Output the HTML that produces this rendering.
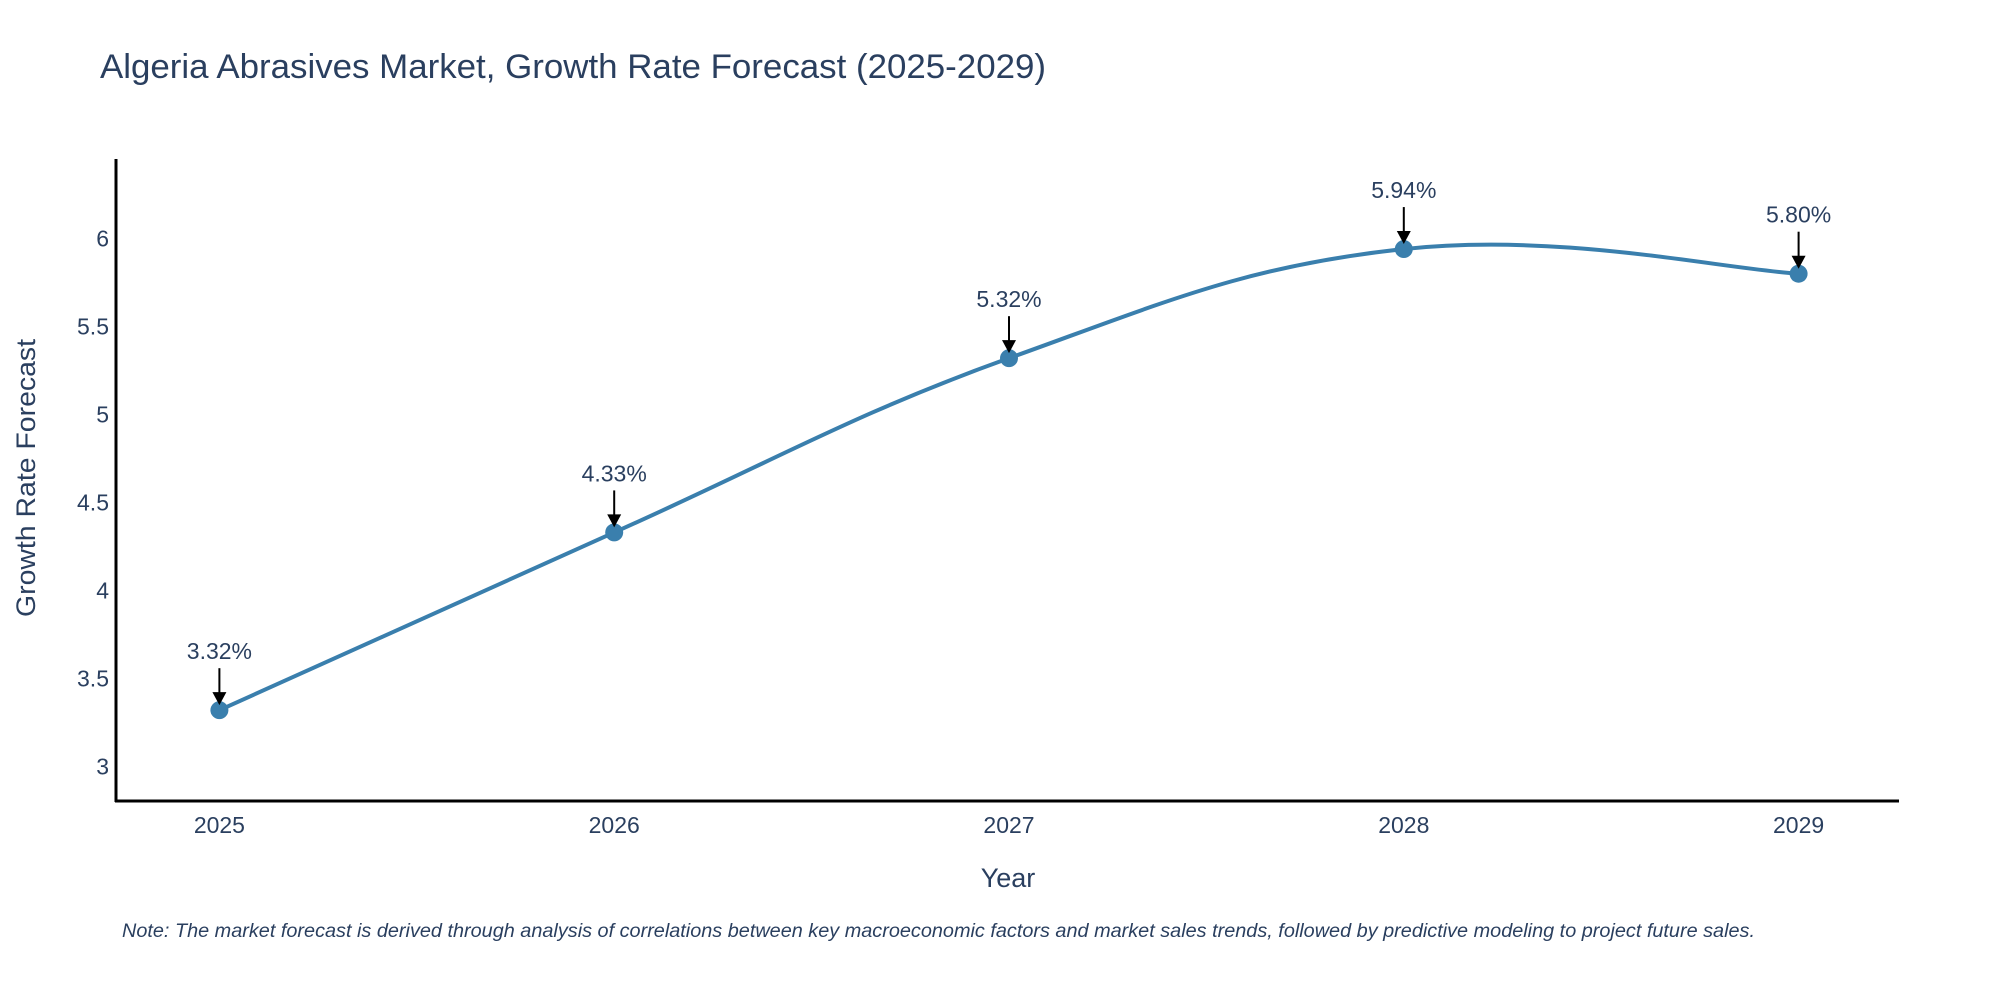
<!DOCTYPE html>
<html><head><meta charset="utf-8"><style>
html,body{margin:0;padding:0;background:#fff;}
svg{display:block;font-family:"Liberation Sans",sans-serif;}
</style></head><body>
<svg id="chart" width="2000" height="1000" viewBox="0 0 2000 1000">
<text x="100" y="78" font-size="34" fill="#2a3f5f" textLength="946" lengthAdjust="spacingAndGlyphs">Algeria Abrasives Market, Growth Rate Forecast (2025-2029)</text>
<g id="yticks"></g>
<g id="xticks"></g>
<line x1="116" y1="159" x2="116" y2="802" stroke="#000" stroke-width="3"/>
<line x1="115" y1="801" x2="1899" y2="801" stroke="#000" stroke-width="3"/>
<path id="line" fill="none" stroke="#3a7fad" stroke-width="4"/>
<g id="points"></g>
<g id="annots"></g>
<text x="1008" y="887" font-size="27" fill="#2a3f5f" text-anchor="middle">Year</text>
<text x="0" y="0" font-size="27" fill="#2a3f5f" text-anchor="middle" textLength="278" lengthAdjust="spacingAndGlyphs" transform="translate(35,478) rotate(-90)">Growth Rate Forecast</text>
<text x="122" y="937" font-size="19" font-style="italic" fill="#2a3f5f" textLength="1633" lengthAdjust="spacingAndGlyphs">Note: The market forecast is derived through analysis of correlations between key macroeconomic factors and market sales trends, followed by predictive modeling to project future sales.</text>
</svg>
<script>
const years = ["2025","2026","2027","2028","2029"];
const values = [3.32, 4.33, 5.32, 5.94, 5.80];
const valueLabels = ["3.32%","4.33%","5.32%","5.94%","5.80%"];
const yTicks = [3, 3.5, 4, 4.5, 5, 5.5, 6];
const yTickLabels = ["3","3.5","4","4.5","5","5.5","6"];

const NS = "http://www.w3.org/2000/svg";
function xs(i){ return 219.4 + i * 394.8; }
function ys(v){ return 238.5 + (6 - v) * 176; }
function mk(tag, attrs, parent){ const e = document.createElementNS(NS, tag); for (const k in attrs) e.setAttribute(k, attrs[k]); parent.appendChild(e); return e; }

const yg = document.getElementById("yticks");
yTicks.forEach((t, i) => {
  const el = mk("text", {x:109, y:ys(t)+8, "font-size":23, fill:"#2a3f5f", "text-anchor":"end"}, yg);
  el.textContent = yTickLabels[i];
  
  
});
const xg = document.getElementById("xticks");
years.forEach((y, i) => {
  const el = mk("text", {x:xs(i), y:833, "font-size":23, fill:"#2a3f5f", "text-anchor":"middle"}, xg);
  el.textContent = y;
  
  
});

const pts = values.map((v, i) => [xs(i), ys(v)]);
let d = "M" + pts[0][0] + "," + pts[0][1];
const s = 0.2;
for (let i = 0; i < pts.length - 1; i++) {
  const p0 = pts[Math.max(0, i-1)], p1 = pts[i], p2 = pts[i+1], p3 = pts[Math.min(pts.length-1, i+2)];
  const c1 = [p1[0] + (p2[0]-p0[0])*s, p1[1] + (p2[1]-p0[1])*s];
  const c2 = [p2[0] - (p3[0]-p1[0])*s, p2[1] - (p3[1]-p1[1])*s];
  d += " C" + c1 + " " + c2 + " " + p2;
}
document.getElementById("line").setAttribute("d", d);

const pg = document.getElementById("points");
const ag = document.getElementById("annots");
pts.forEach((p, i) => {
  const c = mk("circle", {cx:p[0], cy:p[1], r:9, fill:"#3a7fad"}, pg);
  
  
  const a = mk("line", {x1:p[0], y1:p[1]-42, x2:p[0], y2:p[1]-16, stroke:"#000", "stroke-width":2}, ag);
  
  
  const h = mk("path", {d:`M${p[0]-7},${p[1]-18} L${p[0]+7},${p[1]-18} L${p[0]},${p[1]-5} Z`, fill:"#000"}, ag);
  
  
  const t = mk("text", {x:p[0], y:p[1]-51, "font-size":23, fill:"#2a3f5f", "text-anchor":"middle"}, ag);
  t.textContent = valueLabels[i];
  
  
});
</script>
</body></html>
